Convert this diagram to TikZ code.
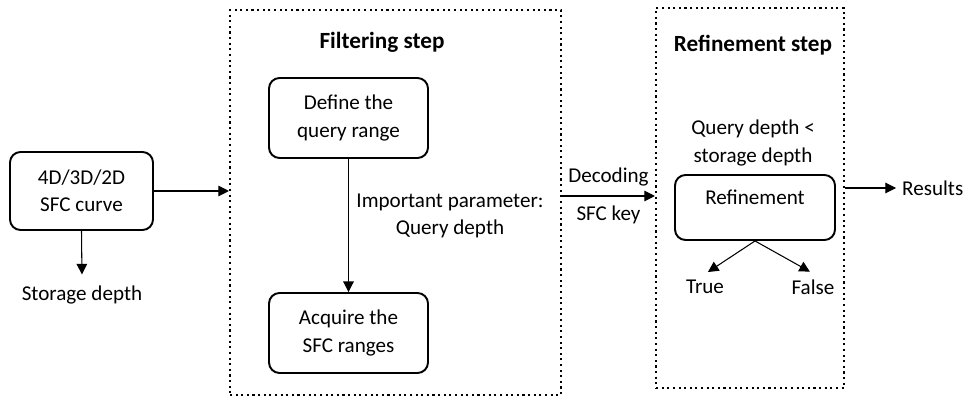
\documentclass[tikz,border=0pt]{standalone}
\usepackage{fontspec}
\setmainfont{Carlito}
\usetikzlibrary{positioning, arrows.meta, calc}

\begin{document}
\begin{tikzpicture}[
    every node/.style={font=\fontsize{12}{15.5}\selectfont},
    stepbox/.style={
        rectangle, rounded corners=6pt, draw=black, line width=1.1pt,
        minimum width=3.18cm, minimum height=1.6cm, align=center,
    },
    phase/.style={
        rectangle, draw=black, dotted, line width=1.2pt, inner sep=0pt,
    },
    title/.style={font=\fontsize{13.2}{16}\selectfont\bfseries},
    arr/.style={-{Triangle[length=6pt, width=6pt]}, line width=0.6pt},
]

% --- Canvas ---
\useasboundingbox (0,0) rectangle (19.26,-7.98);

% --- Input curve ---
\node[stepbox, minimum width=2.86cm, minimum height=1.56cm] (sfc) at (1.63,-3.82)
    {4D/3D/2D\\SFC curve};
\node (storage) at (1.64,-5.9) {Storage depth};
\draw[arr, shorten >=3pt] (sfc.south) -- (storage.north);

% --- Filtering step ---
\node[phase, minimum width=6.62cm, minimum height=7.7cm] (filterbox) at (7.91,-4.05) {};
\node[title] (filtertitle) at (7.64,-0.84) {Filtering step};
\node[stepbox] (define) at (6.97,-2.36) {Define the\\query range};
\node[stepbox] (acquire) at (6.97,-6.66) {Acquire the\\SFC ranges};
\draw[arr] (define.south) -- (acquire.north);
\node[align=center] (param) at (9.0,-4.32) {Important parameter:\\Query depth};

\draw[arr] (sfc.east) -- (sfc.east -| filterbox.west);

% --- Refinement step ---
\node[phase, minimum width=3.76cm, minimum height=7.6cm] (refinebox) at (15.0,-3.96) {};
\node[title] (refinetitle) at (15.06,-0.9) {Refinement step};
\node[align=center] (cond) at (15.06,-2.86) {Query depth <\\storage depth};
\node[stepbox, minimum width=3.2cm, minimum height=0pt, inner ysep=0pt,
      text height=0.6cm, text depth=0.7cm] (refine) at (15.1,-4.15) {Refinement};
\node (true) at (14.1,-5.74) {True};
\node (false) at (16.26,-5.74) {False};
\draw[arr, shorten >=2pt] (refine.south) -- (true.north);
\draw[arr, shorten >=2pt] (refine.south) -- (false.north);

% --- Decoding between the steps ---
\coordinate (decode) at (12.0,-3.92);
\draw[arr] (filterbox.east |- decode) -- (refinebox.west |- decode)
    node[midway, above=2pt] {Decoding}
    node[midway, below=2pt] {SFC key};

% --- Output ---
\node[anchor=west] (results) at (17.92,-3.76) {Results};
\draw[arr] (refinebox.east |- results.west) -- (results.west);

\end{tikzpicture}
\end{document}
